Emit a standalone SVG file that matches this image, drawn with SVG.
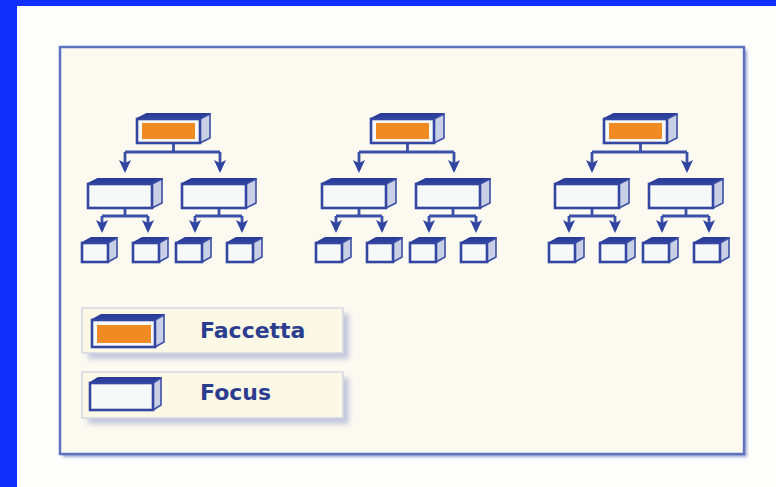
<svg xmlns="http://www.w3.org/2000/svg" xmlns:xlink="http://www.w3.org/1999/xlink" width="776" height="487" viewBox="0 0 776 487">
<style>
.tf{fill:#2d409c;stroke:#2a3c96;stroke-width:2;stroke-linejoin:round}
.sf{fill:#c9d0e5;stroke:#3b4fa6;stroke-width:1.6;stroke-linejoin:round}
.ff{fill:#f7f8f8;stroke:#3347a2;stroke-width:2.6}
.or{fill:#f08a22}
.cn{fill:none;stroke:#3a51a7;stroke-width:2.8}
.lbl{font-family:"DejaVu Sans",Verdana,sans-serif;font-weight:bold;font-size:22px;fill:#2b3d8f}
.lg{fill:#fbf8e6;stroke:#d3d6e3;stroke-width:1.5}
.lgs{fill:#c2c8dd}
</style>
<defs>
<filter id="blur" x="-10%" y="-10%" width="130%" height="140%"><feGaussianBlur stdDeviation="2.5"/></filter>
<filter id="blur2" x="-5%" y="-5%" width="110%" height="110%"><feGaussianBlur stdDeviation="1.5"/></filter>
<marker id="ah" markerUnits="userSpaceOnUse" markerWidth="14" markerHeight="14" refX="10" refY="6" orient="auto">
<path d="M0,0 L13,6 L0,12 L3,6 z" fill="#2f459f"/>
</marker>
<g id="facetBox">
<polygon class="tf" points="0,5 10,0 73,0 63,5"/>
<polygon class="sf" points="63,5 73,0 73,24 63,29"/>
<rect class="ff" x="0" y="5" width="63" height="24"/>
<rect class="or" x="5" y="9" width="53" height="16"/>
</g>
<g id="midBox">
<polygon class="tf" points="0,5 10,0 74,0 64,5"/>
<polygon class="sf" points="64,5 74,0 74,24 64,29"/>
<rect class="ff" x="0" y="5" width="64" height="24"/>
</g>
<g id="leafBox">
<polygon class="tf" points="0,5 9,0 35,0 26,5"/>
<polygon class="sf" points="26,5 35,0 35,19 26,24"/>
<rect class="ff" x="0" y="5" width="26" height="19"/>
</g>
<g id="conn">
<path class="cn" d="M173.5,143 V152 M125,152 H220"/>
<path class="cn" d="M125,152 V170" marker-end="url(#ah)"/>
<path class="cn" d="M220,152 V170" marker-end="url(#ah)"/>
<path class="cn" d="M125,208 V216 M102,216 H148 M219,208 V216 M195,216 H242"/>
<path class="cn" d="M102,216 V230" marker-end="url(#ah)"/>
<path class="cn" d="M148,216 V230" marker-end="url(#ah)"/>
<path class="cn" d="M195,216 V230" marker-end="url(#ah)"/>
<path class="cn" d="M242,216 V230" marker-end="url(#ah)"/>
</g>
</defs>
<rect x="0" y="0" width="776" height="487" fill="#fdfdfc"/>
<rect x="0" y="0" width="776" height="6" fill="#0f2efc"/>
<rect x="0" y="0" width="17" height="487" fill="#0f2efc"/>
<rect x="63" y="50" width="684" height="407" fill="#9aa6d0" filter="url(#blur2)"/>
<rect x="60" y="47" width="684" height="407" fill="#fcf9f1" stroke="#5d73bf" stroke-width="2.5"/>

<g id="connectors">
<use xlink:href="#conn"/>
<use xlink:href="#conn" x="234"/>
<use xlink:href="#conn" x="467"/>
</g>

<g id="t1-root"><use xlink:href="#facetBox" x="137" y="114"/></g>
<g id="t1-m1"><use xlink:href="#midBox" x="88" y="179"/></g>
<g id="t1-m2"><use xlink:href="#midBox" x="182" y="179"/></g>
<g id="t1-l1"><use xlink:href="#leafBox" x="82" y="238"/></g>
<g id="t1-l2"><use xlink:href="#leafBox" x="133" y="238"/></g>
<g id="t1-l3"><use xlink:href="#leafBox" x="176" y="238"/></g>
<g id="t1-l4"><use xlink:href="#leafBox" x="227" y="238"/></g>

<g id="t2-root"><use xlink:href="#facetBox" x="371" y="114"/></g>
<g id="t2-m1"><use xlink:href="#midBox" x="322" y="179"/></g>
<g id="t2-m2"><use xlink:href="#midBox" x="416" y="179"/></g>
<g id="t2-l1"><use xlink:href="#leafBox" x="316" y="238"/></g>
<g id="t2-l2"><use xlink:href="#leafBox" x="367" y="238"/></g>
<g id="t2-l3"><use xlink:href="#leafBox" x="410" y="238"/></g>
<g id="t2-l4"><use xlink:href="#leafBox" x="461" y="238"/></g>

<g id="t3-root"><use xlink:href="#facetBox" x="604" y="114"/></g>
<g id="t3-m1"><use xlink:href="#midBox" x="555" y="179"/></g>
<g id="t3-m2"><use xlink:href="#midBox" x="649" y="179"/></g>
<g id="t3-l1"><use xlink:href="#leafBox" x="549" y="238"/></g>
<g id="t3-l2"><use xlink:href="#leafBox" x="600" y="238"/></g>
<g id="t3-l3"><use xlink:href="#leafBox" x="643" y="238"/></g>
<g id="t3-l4"><use xlink:href="#leafBox" x="694" y="238"/></g>

<g id="legend-faccetta">
<rect class="lgs" x="88" y="314" width="261" height="45" filter="url(#blur)"/>
<rect class="lg" x="82" y="308" width="261" height="45"/>
<polygon class="tf" points="92,320 101,315 164,315 155,320"/>
<polygon class="sf" points="155,320 164,315 164,342 155,347"/>
<rect class="ff" x="92" y="320" width="63" height="27"/>
<rect class="or" x="97" y="325" width="54" height="18"/>
<text class="lbl" x="200" y="338">Faccetta</text>
</g>
<g id="legend-focus">
<rect class="lgs" x="88" y="378" width="261" height="46" filter="url(#blur)"/>
<rect class="lg" x="82" y="372" width="261" height="46"/>
<polygon class="tf" points="90,383 98,378 161,378 153,383"/>
<polygon class="sf" points="153,383 161,378 161,405 153,410"/>
<rect class="ff" x="90" y="383" width="63" height="27"/>
<text class="lbl" x="200" y="400">Focus</text>
</g>
</svg>
